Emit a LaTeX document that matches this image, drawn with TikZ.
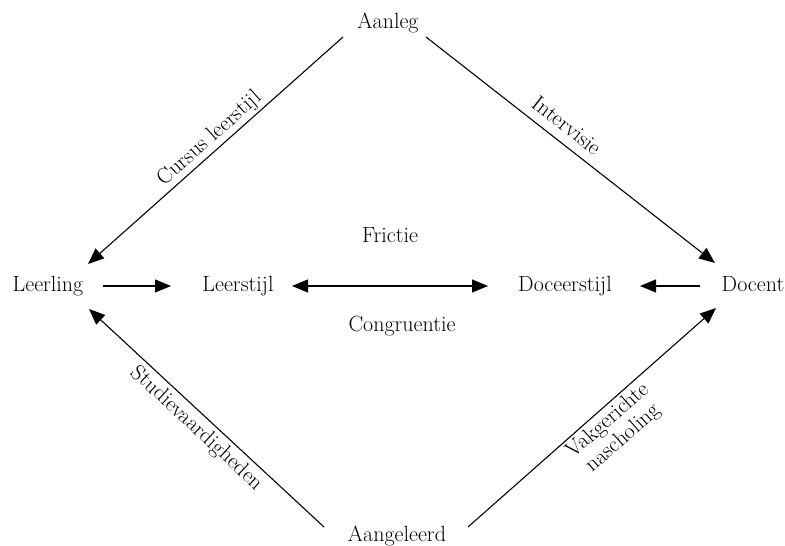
\documentclass[tikz,border=0pt]{standalone}
\usetikzlibrary{arrows.meta}
\begin{document}
\begin{tikzpicture}[x=1pt,y=1pt,
  every node/.style={font=\fontsize{22}{23}\selectfont},
  term/.style={inner sep=0pt,anchor=base},
  arr/.style={line width=1.1pt,-{Triangle[length=16pt,width=13pt]}},
  darr/.style={line width=1.1pt,{Triangle[length=16pt,width=13pt]}-{Triangle[length=16pt,width=13pt]}},
  lab/.style={sloped,inner sep=1pt,align=center}]
\useasboundingbox (0,0) rectangle (785,546);

% concepts
\node[term] (aanleg)      at (388,517) {Aanleg};
\node[term] (leerling)    at (48,254)  {Leerling};
\node[term] (leerstijl)   at (238,254) {Leerstijl};
\node[term] (doceerstijl) at (565,254) {Doceerstijl};
\node[term] (docent)      at (753,254) {Docent};
\node[term] (aangeleerd)  at (397,4)   {Aangeleerd};
\node[term] (frictie)     at (390,303) {Frictie};
\node[term] (congruentie) at (402,214) {Congruentie};

% influences from above
\draw[arr] ([shift={(-45,-8)}]aanleg.base) -- ([shift={(40,28)}]leerling.base)
  node[lab,pos=0.49,above,inner sep=2pt] {Cursus leerstijl};
\draw[arr] ([shift={(38,-8)}]aanleg.base) -- ([shift={(-38,29)}]docent.base)
  node[lab,pos=0.45,above,inner sep=9pt] {Intervisie};

% horizontal chain
\draw[arr] ([shift={(55,6)}]leerling.base) -- ([shift={(-67,6)}]leerstijl.base);
\draw[darr] ([shift={(54,6)}]leerstijl.base) -- ([shift={(-77,6)}]doceerstijl.base);
\draw[arr] ([shift={(-53,6)}]docent.base) -- ([shift={(75,6)}]doceerstijl.base);

% influences from below
\draw[arr] ([shift={(-73,15)}]aangeleerd.base) -- ([shift={(41,-17)}]leerling.base)
  node[lab,pos=0.5,below,inner sep=4pt] {Studievaardigheden};
\draw[arr] ([shift={(71,15)}]aangeleerd.base) -- ([shift={(-37,-16)}]docent.base)
  node[lab,pos=0.53,below,inner sep=3pt] {Vakgerichte\\nascholing};
\end{tikzpicture}
\end{document}
